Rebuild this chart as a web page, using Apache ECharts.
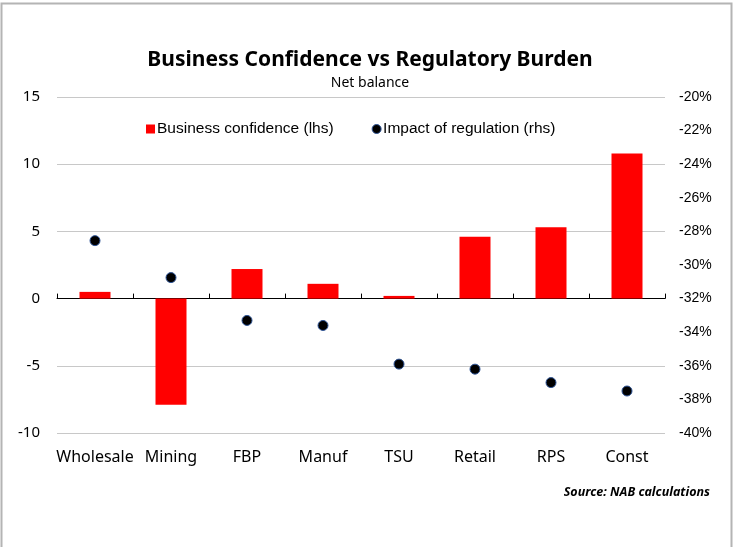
<!DOCTYPE html>
<html lang="en">
<head>
  <meta charset="UTF-8">
  <title>Business Confidence vs Regulatory Burden</title>
  <script src="https://cdn.jsdelivr.net/npm/echarts@6/dist/echarts.min.js"></script>
  <style>
    html, body { margin: 0; padding: 0; background: #fff; }
  </style>
</head>
<body>
  <div id="chart" style="width:740px;height:547px;"></div>
</body>
</html>
<script type="text/javascript">
  // data
  let categories = ['Wholesale', 'Mining', 'FBP', 'Manuf', 'TSU', 'Retail', 'RPS', 'Const'];
  let confidence = [0.5, -7.9, 2.2, 1.1, 0.2, 4.6, 5.3, 10.8];        // lhs, net balance
  let regulation = [-28.55, -30.75, -33.3, -33.6, -35.9, -36.2, -37.0, -37.5]; // rhs, %
  let leftTicks = { min: -10, max: 15, interval: 5 };
  let rightTicks = { min: -40, max: -20, interval: 2 };

  let chart = echarts.init(document.getElementById('chart'));
  let humanist = 'Noto Sans';
  let arial = 'Liberation Sans';

  let option = {
    animation: false,
    backgroundColor: '#fff',
    title: [{
      text: 'Business Confidence vs Regulatory Burden',
      left: 'center',
      top: 45,
      textStyle: { fontFamily: humanist, fontWeight: 'bold', fontSize: 21, color: '#000' }
    }, {
      text: 'Net balance',
      left: 'center',
      top: 71,
      textStyle: { fontFamily: humanist, fontWeight: 'normal', fontSize: 14, color: '#000' }
    }],
    legend: {
      top: 116,
      left: 141,
      itemGap: 38,
      itemWidth: 9,
      itemHeight: 9,
      textStyle: { fontFamily: arial, fontSize: 15.5, color: '#000', padding: [0, 0, 0, -3] },
      data: [
        { name: 'Business confidence (lhs)', icon: 'rect' },
        { name: 'Impact of regulation (rhs)', icon: 'circle', itemStyle: { color: '#000', borderColor: '#2f5597', borderWidth: 1 } }
      ]
    },
    grid: { left: 57, right: 75, top: 97, bottom: 114 },
    xAxis: [{
      type: 'category',
      data: categories,
      axisLine: { onZero: true, onZeroAxisIndex: 0, lineStyle: { color: '#000', width: 1 } },
      // flipped so the ticks hang below the zero line
      axisTick: { show: true, inside: true, length: 5, lineStyle: { color: '#000' } },
      axisLabel: { show: false }
    }, {
      type: 'category',
      data: categories,
      position: 'bottom',
      axisLine: { show: false },
      axisTick: { show: false },
      axisLabel: { interval: 0, fontFamily: humanist, fontSize: 16, color: '#000', margin: 16 }
    }],
    yAxis: [{
      type: 'value',
      min: leftTicks.min,
      max: leftTicks.max,
      interval: leftTicks.interval,
      axisLine: { show: false },
      axisTick: { show: false },
      axisLabel: { fontFamily: humanist, fontSize: 15, color: '#000', margin: 17 },
      splitLine: { lineStyle: { color: '#c8c8c8', width: 1 } }
    }, {
      type: 'value',
      min: rightTicks.min,
      max: rightTicks.max,
      interval: rightTicks.interval,
      axisLine: { show: false },
      axisTick: { show: false },
      splitLine: { show: false },
      axisLabel: { fontFamily: arial, fontSize: 14, color: '#000', margin: 14, formatter: '{value}%' }
    }],
    series: [{
      name: 'Business confidence (lhs)',
      type: 'bar',
      xAxisIndex: 0,
      yAxisIndex: 0,
      barWidth: 31,
      itemStyle: { color: '#ff0000' },
      data: confidence
    }, {
      name: 'Impact of regulation (rhs)',
      type: 'scatter',
      xAxisIndex: 0,
      yAxisIndex: 1,
      symbol: 'circle',
      symbolSize: 10,
      itemStyle: { color: '#000', borderColor: '#2f5597', borderWidth: 1, opacity: 1 },
      data: regulation
    }],
    graphic: [{
      type: 'rect',
      shape: { x: 1.5, y: 3.5, width: 730, height: 560 },
      style: { fill: 'none', stroke: '#b4b4b4', lineWidth: 2 },
      silent: true
    }, {
      type: 'text',
      right: 30,
      top: 486,
      style: {
        text: 'Source: NAB calculations',
        font: 'italic bold 12.5px "Noto Sans"',
        fill: '#000'
      }
    }]
  };
  chart.setOption(option);
</script>
